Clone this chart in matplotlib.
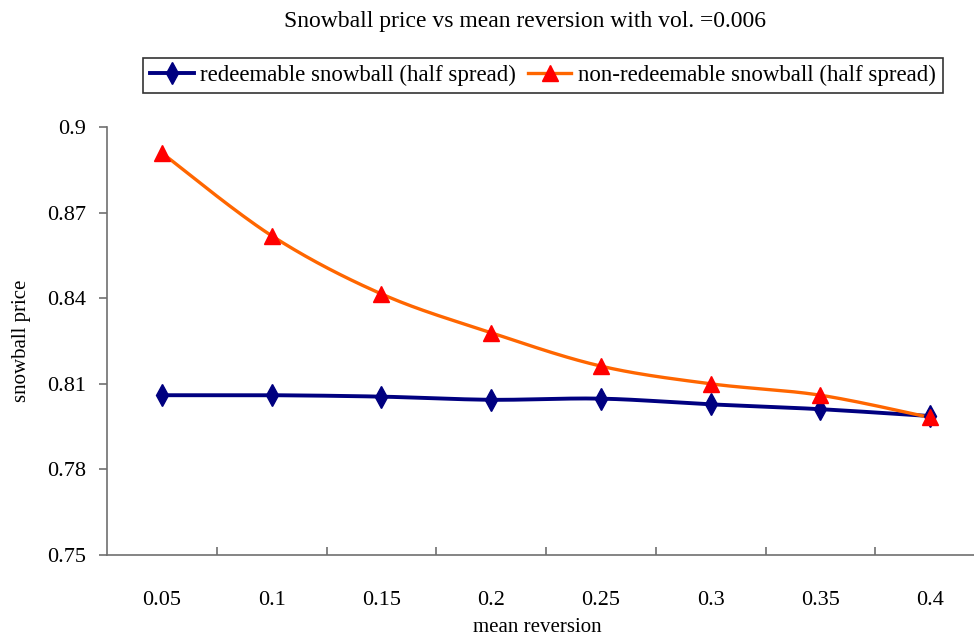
import numpy as np
import matplotlib.pyplot as plt

# mean reversion levels and snowball prices
mean_rev = ["0.05", "0.1", "0.15", "0.2", "0.25", "0.3", "0.35", "0.4"]
redeemable = [0.8060, 0.8060, 0.8055, 0.8044, 0.8048, 0.8028, 0.8011, 0.7987]
non_redeemable = [0.8909, 0.8619, 0.8415, 0.8279, 0.8162, 0.8100, 0.8060, 0.7982]
y_ticks = [0.75, 0.78, 0.81, 0.84, 0.87, 0.9]

plt.rcParams['font.family'] = ['Liberation Serif', 'DejaVu Serif']


def smooth(xs, ys, n=30):
    # catmull-rom curve through the points, like a spreadsheet "smoothed line"
    xs = np.asarray(xs, float)
    ys = np.asarray(ys, float)
    px = np.concatenate([[xs[0]], xs, [xs[-1]]])
    py = np.concatenate([[ys[0]], ys, [ys[-1]]])
    out_x, out_y = [], []
    t = np.linspace(0, 1, n)
    for i in range(1, len(px) - 2):
        for p, out in ((px, out_x), (py, out_y)):
            p0, p1, p2, p3 = p[i - 1], p[i], p[i + 1], p[i + 2]
            c1 = p1 + (p2 - p0) / 6
            c2 = p2 - (p3 - p1) / 6
            seg = ((1 - t) ** 3 * p1 + 3 * (1 - t) ** 2 * t * c1
                   + 3 * (1 - t) * t ** 2 * c2 + t ** 3 * p2)
            out.extend(seg)
    return out_x, out_y


fig = plt.figure(figsize=(9.74, 6.41), dpi=100)
ax = fig.add_axes([107 / 974, 86 / 641, 878 / 974, 428 / 641])

x = np.arange(len(mean_rev))

sx, sy = smooth(x, redeemable)
ax.plot(sx, sy, color='#000080', lw=2.8, zorder=2)
ax.plot(x, redeemable, ls='none', marker='d', color='#000080',
        markersize=11, zorder=3)
l1, = ax.plot([], [], color='#000080', lw=2.8, marker='d', markersize=11,
              label='redeemable snowball (half spread)')

sx, sy = smooth(x, non_redeemable)
ax.plot(sx, sy, color='#FF6600', lw=2.4, zorder=2)
ax.plot(x, non_redeemable, ls='none', marker='^', color='#FF0000',
        markersize=12, zorder=4)
l2, = ax.plot([], [], color='#FF6600', lw=2.4, marker='^', markersize=12,
              markerfacecolor='#FF0000', markeredgecolor='#FF0000',
              label='non-redeemable snowball (half spread)')

ax.set_xlim(-0.5, len(mean_rev) - 0.5)
ax.set_ylim(0.75, 0.9)

ax.set_xticks(x)
ax.set_xticklabels(mean_rev)
ax.set_xticks(np.arange(0.5, len(mean_rev)), minor=True)
ax.tick_params(axis='x', which='major', length=0, pad=26, labelsize=16)
ax.tick_params(axis='x', which='minor', direction='in', length=6,
               color='#707070', width=1.2)

ax.set_yticks(y_ticks)
ax.set_yticklabels(["0.75", "0.78", "0.81", "0.84", "0.87", "0.9"])
ax.tick_params(axis='y', direction='out', length=6, color='#707070',
               width=1.2, pad=9, labelsize=16)

for side in ('top', 'right'):
    ax.spines[side].set_visible(False)
for side in ('left', 'bottom'):
    ax.spines[side].set_color('#707070')
    ax.spines[side].set_linewidth(1.2)

ax.set_xlabel('mean reversion', fontsize=15)
ax.xaxis.set_label_coords((537 - 107) / 878, (555 - 628) / 428)
ax.xaxis.label.set_va('center')
ax.set_ylabel('snowball price', fontsize=15)
ax.yaxis.set_label_coords((22 - 107) / 878, 0.5)
ax.yaxis.label.set_va('center')

fig.text(525 / 974, 1 - 22 / 641, 'Snowball price vs mean reversion with vol. =0.006',
         ha='center', va='center', fontsize=17)

leg = fig.legend(handles=[l1, l2], loc='center', ncol=2,
                 bbox_to_anchor=(543 / 974, 1 - 75.5 / 641),
                 fontsize=16.5, fancybox=False, edgecolor='black',
                 handlelength=1.9, handletextpad=0.3, columnspacing=0.5,
                 borderpad=0.3, borderaxespad=0)
leg.get_frame().set_linewidth(1.2)

fig.savefig('out.png', dpi=100)
